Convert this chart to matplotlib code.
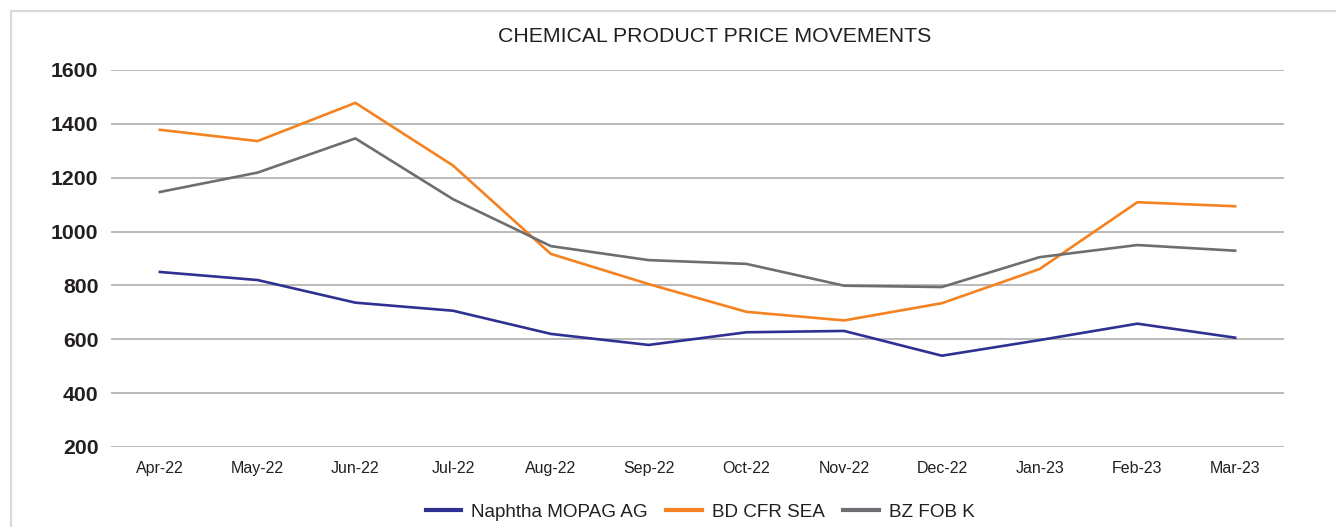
import matplotlib
matplotlib.use('Agg')
import matplotlib.pyplot as plt
from matplotlib.lines import Line2D

plt.rcParams['font.family'] = ['Liberation Sans', 'DejaVu Sans']

months = ['Apr-22', 'May-22', 'Jun-22', 'Jul-22', 'Aug-22', 'Sep-22',
          'Oct-22', 'Nov-22', 'Dec-22', 'Jan-23', 'Feb-23', 'Mar-23']
naphtha = [850, 820, 736, 706, 620, 579, 626, 631, 539, 597, 658, 606]
bd_cfr = [1378, 1336, 1478, 1245, 917, 805, 702, 670, 734, 861, 1109, 1094]
bz_fob = [1147, 1219, 1346, 1120, 946, 894, 880, 799, 794, 905, 950, 929]
yticks = [200, 400, 600, 800, 1000, 1200, 1400, 1600]

W, H = 1336, 527
fig = plt.figure(figsize=(W / 100, H / 100), dpi=100)
ax = fig.add_axes([111 / W, 1 - 447 / H, (1284 - 111) / W, (447 - 70) / H])

x = range(len(months))
ax.plot(x, naphtha, color='#2e3192', lw=1.9, label='Naphtha MOPAG AG')
ax.plot(x, bd_cfr, color='#f58220', lw=1.9, label='BD CFR SEA')
ax.plot(x, bz_fob, color='#6d6e71', lw=1.9, label='BZ FOB K')

ax.set_xlim(-0.5, len(months) - 0.5)
ax.set_ylim(200, 1600)
ax.set_yticks(yticks)
ax.set_xticks(list(x))
ax.set_xticklabels(months, fontsize=11.5, color='#231f20')
ax.set_yticklabels([str(v) for v in yticks], fontsize=15.3,
                   fontweight='bold', color='#231f20')
ax.tick_params(axis='both', length=0)
ax.tick_params(axis='y', pad=9)
ax.tick_params(axis='x', pad=10)
ax.grid(axis='y', color='#bababa', lw=1.4)
ax.set_axisbelow(True)
for s in ax.spines.values():
    s.set_visible(False)

fig.text(715 / W, 1 - 36 / H, 'CHEMICAL PRODUCT PRICE MOVEMENTS',
         ha='center', va='center', fontsize=15.3, color='#231f20')

leg = ax.legend(loc='center', bbox_to_anchor=(700 / W, 1 - 512 / H),
                bbox_transform=fig.transFigure, ncol=3, frameon=False,
                fontsize=13.6, handlelength=1.9, columnspacing=0.95,
                handletextpad=0.53)
for t in leg.get_texts():
    t.set_color('#231f20')
for h in leg.legend_handles:
    h.set_linewidth(3)

# light frame around the chart (top and left edges visible)
fig.add_artist(Line2D([11 / W, 1], [1 - 11 / H, 1 - 11 / H],
                      transform=fig.transFigure, color='#d9d9d9', lw=1.5))
fig.add_artist(Line2D([11 / W, 11 / W], [0, 1 - 11 / H],
                      transform=fig.transFigure, color='#d9d9d9', lw=1.5))

fig.savefig('out.png', dpi=100)
